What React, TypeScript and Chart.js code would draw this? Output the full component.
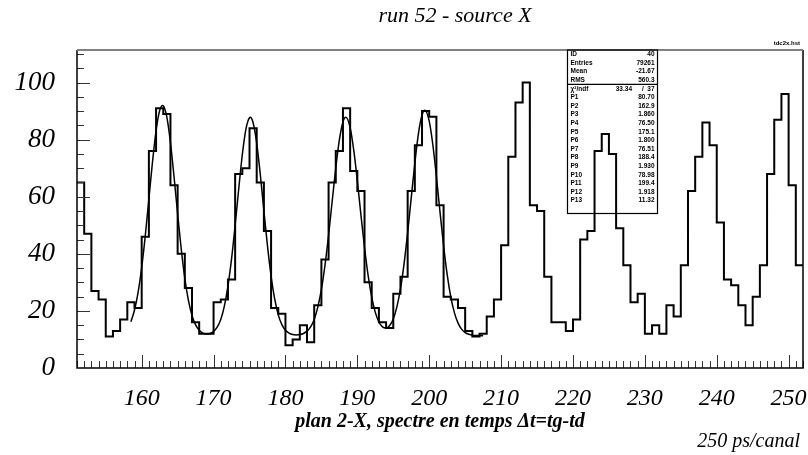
import React, { useEffect, useRef } from "react";
import { Chart, registerables } from "chart.js";

Chart.register(...registerables);

// ---------- data ----------
const firstBinLowEdge = 151;
const lastBinHighEdge = 252;
const counts = [
  65, 47, 27, 24, 11, 13, 17, 23, 21, 46,
  76, 91, 89, 64, 40, 28, 16, 12, 12, 23,
  24, 31, 68, 70, 84, 65, 48, 21, 19, 8,
  10, 15, 9, 22, 38, 65, 76, 91, 69, 62,
  30, 21, 16, 14, 26, 32, 62, 78, 90, 88,
  57, 25, 24, 21, 13, 11, 12, 18, 24, 43,
  74, 93, 100, 57, 55, 32, 16, 16, 13, 17,
  45, 48, 76, 82, 75, 49, 36, 23, 26, 12,
  15, 12, 22, 18, 36, 62, 74, 86, 78, 51,
  31, 29, 22, 15, 25, 36, 68, 87, 96, 64,
  36,
];

const fitX = [
  158.5, 159, 159.5, 160, 160.5, 161, 161.5, 162, 162.5, 162.9, 163, 163.5, 164, 164.5, 165, 165.5, 166, 166.5, 167, 167.5,
  168, 168.5, 169, 169.5, 170, 170.5, 171, 171.5, 172, 172.5, 173, 173.5, 174, 174.5, 175, 175.1, 175.5, 176, 176.5, 177,
  177.5, 178, 178.5, 179, 179.5, 180, 180.5, 181, 181.5, 182, 182.5, 183, 183.5, 184, 184.5, 185, 185.5, 186, 186.5, 187,
  187.5, 188, 188.4, 189, 189.5, 190, 190.5, 191, 191.5, 192, 192.5, 193, 193.5, 194, 194.5, 195, 195.5, 196, 196.5, 197,
  197.5, 198, 198.5, 199, 199.4, 200, 200.5, 201, 201.5, 202, 202.5, 203, 203.5, 204, 204.5, 205, 205.5, 206, 207, 207.5,
];
const fitY = [
  16.2, 20.3, 26.5, 35.3, 46.4, 59.2, 72.1, 83.1, 90.2, 92.0, 91.9, 87.9, 79.0, 67.0, 54.0, 41.7, 31.4, 23.7, 18.4, 15.1,
  13.2, 12.2, 11.9, 12.1, 12.8, 14.3, 17.0, 21.7, 28.7, 38.2, 50.0, 62.8, 74.8, 83.7, 87.7, 87.8, 85.9, 78.8, 67.8, 55.1,
  42.8, 32.2, 24.2, 18.6, 15.2, 13.2, 12.2, 11.7, 11.6, 11.7, 12.1, 12.9, 14.4, 17.0, 21.3, 27.5, 36.0, 46.6, 58.4, 70.1,
  79.9, 86.2, 87.8, 84.2, 76.3, 65.6, 53.6, 42.2, 32.4, 24.8, 19.5, 16.1, 14.4, 14.0, 14.9, 17.2, 21.4, 27.7, 36.5, 47.4,
  59.7, 71.8, 82.1, 88.6, 90.3, 86.5, 78.3, 67.1, 54.7, 42.8, 32.7, 24.9, 19.4, 15.8, 13.6, 12.4, 11.8, 11.5, 11.4, 11.3,
];

const xTickValues = [160, 170, 180, 190, 200, 210, 220, 230, 240, 250];
const yTickValues = [0, 20, 40, 60, 80, 100];
const yMax = 111.4;

const titleText = "run 52 - source X";
const xAxisTitle = "plan 2-X, spectre en temps \u0394t=tg-td";
const unitText = "250 ps/canal";
const histName = "tdc2x.hst";

const statsNames = ["ID", "Entries", "Mean", "RMS"];
const statsValues = ["40", "79261", "-21.67", "560.3"];
const chi2Value = "33.34";
const ndfValue = "37";
const paramNames = ["P1", "P2", "P3", "P4", "P5", "P6", "P7", "P8", "P9", "P10", "P11", "P12", "P13"];
const paramValues = ["80.70", "162.9", "1.860", "76.50", "175.1", "1.800", "76.51", "188.4", "1.930", "78.98", "199.4", "1.918", "11.32"];

const SERIF = '"Liberation Serif", "Times New Roman", serif';
const SANS = '"Liberation Sans", Arial, sans-serif';

const decorPlugin = {
  id: "rootDecor",
  afterDatasetsDraw(chart: any) {
    const { ctx, chartArea, scales } = chart;
    const { left, right, top, bottom } = chartArea;
    const xs = scales.x;
    const ys = scales.y;
    ctx.save();

    // ticks inside the frame
    ctx.strokeStyle = "#333";
    ctx.lineWidth = 1;
    ctx.beginPath();
    for (let v = Math.ceil(xs.min); v <= Math.floor(xs.max); v++) {
      const px = Math.round(xs.getPixelForValue(v)) + 0.5;
      const len = v % 10 === 0 ? 13 : 7;
      ctx.moveTo(px, bottom);
      ctx.lineTo(px, bottom - len);
    }
    for (let v = 5; v <= ys.max; v += 5) {
      const py = Math.round(ys.getPixelForValue(v)) + 0.5;
      const len = v % 20 === 0 ? 13 : 7;
      ctx.moveTo(left, py);
      ctx.lineTo(left + len, py);
    }
    ctx.stroke();

    // frame
    ctx.strokeStyle = "#000";
    ctx.lineWidth = 1.5;
    ctx.beginPath();
    ctx.moveTo(left, top);
    ctx.lineTo(left, bottom);
    ctx.lineTo(right, bottom);
    ctx.lineTo(right, top);
    ctx.stroke();
    ctx.strokeStyle = "#808080";
    ctx.lineWidth = 2;
    ctx.beginPath();
    ctx.moveTo(left, top);
    ctx.lineTo(right, top);
    ctx.stroke();

    // stats box
    const bx0 = 567.5, bx1 = 657.5, by0 = top, by1 = 213.5;
    const rowH = (by1 - by0) / (statsNames.length + 2 + paramNames.length);
    ctx.strokeStyle = "#000";
    ctx.lineWidth = 1.2;
    ctx.strokeRect(bx0, by0, bx1 - bx0, by1 - by0);
    ctx.beginPath();
    ctx.moveTo(bx0, by0 + rowH * statsNames.length);
    ctx.lineTo(bx1, by0 + rowH * statsNames.length);
    ctx.stroke();
    ctx.fillStyle = "#000";
    ctx.font = `bold 6.5px ${SANS}`;
    ctx.textBaseline = "middle";
    const rowY = (i: number) => by0 + rowH * (i + 0.5);
    statsNames.forEach((n, i) => {
      ctx.textAlign = "left";
      ctx.fillText(n, bx0 + 3, rowY(i));
      ctx.textAlign = "right";
      ctx.fillText(statsValues[i], bx1 - 3, rowY(i));
    });
    const ci = statsNames.length;
    ctx.textAlign = "left";
    ctx.fillText("\u03C7\u00B2/ndf", bx0 + 3, rowY(ci));
    ctx.textAlign = "right";
    ctx.fillText(chi2Value, 632, rowY(ci));
    ctx.textAlign = "center";
    ctx.fillText("/", 643, rowY(ci));
    ctx.textAlign = "right";
    ctx.fillText(ndfValue, bx1 - 3, rowY(ci));
    paramNames.forEach((n, i) => {
      ctx.textAlign = "left";
      ctx.fillText(n, bx0 + 3, rowY(ci + 1 + i));
      ctx.textAlign = "right";
      ctx.fillText(paramValues[i], bx1 - 3, rowY(ci + 1 + i));
    });

    // histogram name
    ctx.font = `bold 6px ${SANS}`;
    ctx.textAlign = "right";
    ctx.fillText(histName, 800, 43);

    // title
    ctx.font = `italic 22px ${SERIF}`;
    ctx.textAlign = "center";
    ctx.fillText(titleText, 455, 16);

    // unit text
    ctx.font = `italic 20px ${SERIF}`;
    ctx.textAlign = "right";
    ctx.fillText(unitText, 800, 442);

    ctx.restore();
  },
};

export default function App() {
  const canvasRef = useRef<HTMLCanvasElement | null>(null);

  useEffect(() => {
    document.body.style.margin = "0";
    const canvas = canvasRef.current;
    if (!canvas) return;

    const histData = counts.map((c, i) => ({ x: firstBinLowEdge + i, y: c }));
    histData.push({ x: lastBinHighEdge, y: counts[counts.length - 1] });
    const fitData = fitX.map((x, i) => ({ x, y: fitY[i] }));

    const chart = new Chart(canvas, {
      type: "line",
      data: {
        datasets: [
          {
            data: histData,
            stepped: "before",
            borderColor: "#000",
            borderWidth: 2,
            pointRadius: 0,
            fill: false,
          },
          {
            data: fitData,
            borderColor: "#000",
            borderWidth: 1.5,
            pointRadius: 0,
            fill: false,
            cubicInterpolationMode: "monotone",
          },
        ],
      },
      options: {
        animation: false,
        responsive: false,
        devicePixelRatio: 1,
        layout: { padding: { top: 50, right: 5, left: 0, bottom: 0 } },
        plugins: {
          legend: { display: false },
          tooltip: { enabled: false },
          title: { display: false },
        },
        scales: {
          x: {
            type: "linear",
            position: "bottom",
            min: firstBinLowEdge,
            max: lastBinHighEdge,
            grid: { display: false, drawTicks: false, tickLength: 0 },
            border: { display: false },
            ticks: {
              color: "#000",
              font: { family: SERIF, size: 24, style: "italic" },
              padding: 16,
              maxRotation: 0,
              autoSkip: false,
            },
            title: {
              display: true,
              text: xAxisTitle,
              color: "#000",
              font: { family: SERIF, size: 20, style: "italic", weight: "bold" },
              padding: { top: 0, bottom: 21 },
            },
            afterBuildTicks: (scale: any) => {
              scale.ticks = xTickValues.map((value) => ({ value }));
            },
            afterFit: (scale: any) => {
              scale.height = 87;
              scale.paddingLeft = 0;
              scale.paddingRight = 0;
            },
          },
          y: {
            type: "linear",
            min: 0,
            max: yMax,
            grid: { display: false, drawTicks: false, tickLength: 0 },
            border: { display: false },
            ticks: {
              color: "#000",
              font: { family: SERIF, size: 27, style: "italic" },
              padding: 22,
            },
            afterBuildTicks: (scale: any) => {
              scale.ticks = yTickValues.map((value) => ({ value }));
            },
            afterFit: (scale: any) => {
              scale.width = 77;
              scale.paddingTop = 0;
              scale.paddingBottom = 0;
            },
          },
        },
      } as any,
      plugins: [decorPlugin],
    });

    return () => chart.destroy();
  }, []);

  return (
    <div style={{ width: 808, height: 455, background: "#fff" }}>
      <canvas ref={canvasRef} width={808} height={455} style={{ display: "block" }} />
    </div>
  );
}
